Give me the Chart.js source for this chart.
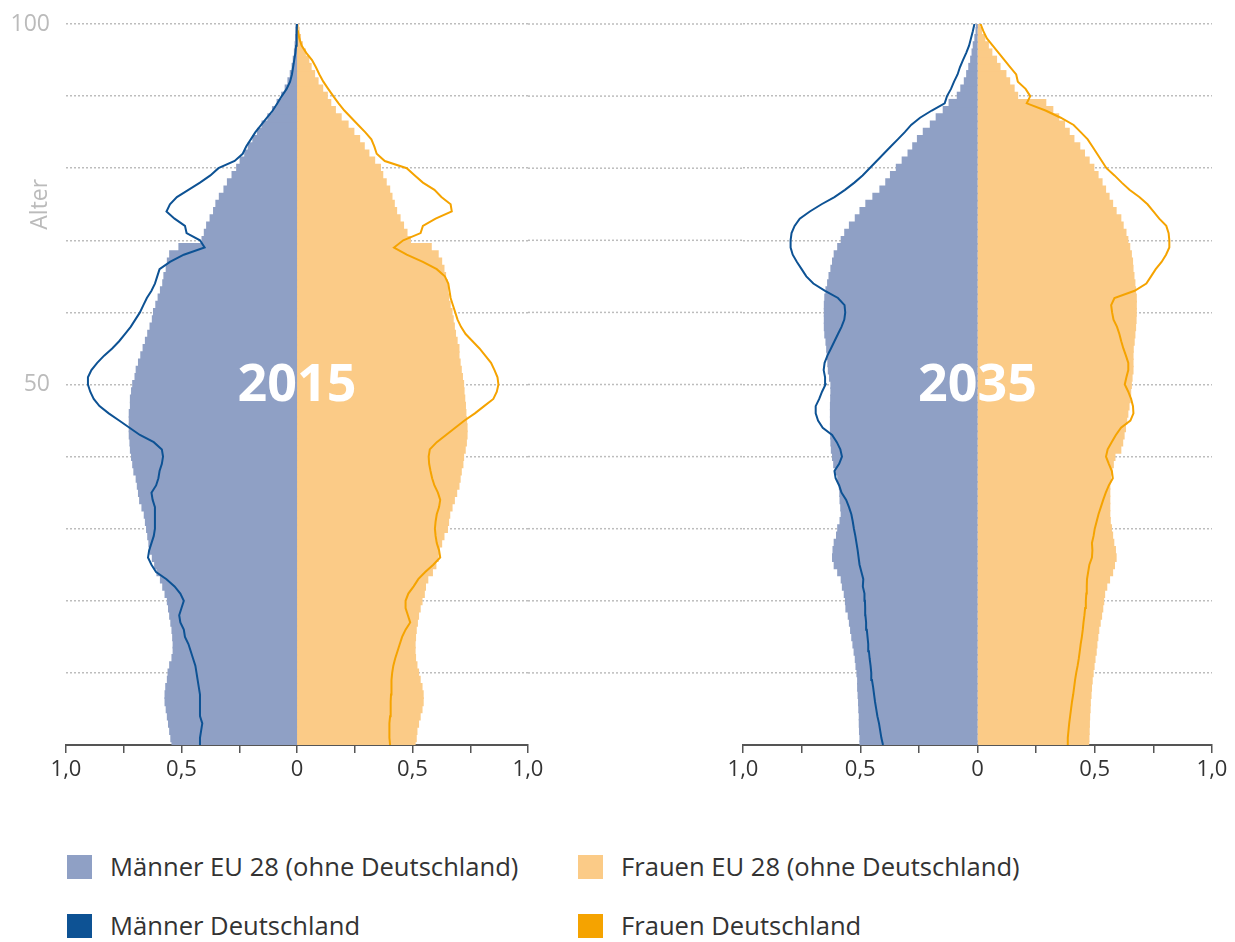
<!DOCTYPE html>
<html lang="de">
<head>
<meta charset="utf-8">
<script src="https://cdn.jsdelivr.net/npm/chart.js@4.4.1/dist/chart.umd.min.js"></script>
<style>
  body { margin: 0; background: #fff; font-family: "Open Sans", sans-serif; }
  #wrap { position: relative; width: 1235px; height: 942px; overflow: hidden; }
  #c2015 { position: absolute; left: 0; top: 0; }
  #c2035 { position: absolute; left: 640px; top: 0; }
  .leg { position: absolute; font-size: 25.6px; line-height: 30px; color: #333; white-space: nowrap; }
  .leg i { position: absolute; left: -43px; top: 3px; width: 25px; height: 24px; }
</style>
</head>
<body>
<div id="wrap">
  <canvas id="c2015" width="640" height="820"></canvas>
  <canvas id="c2035" width="595" height="820"></canvas>
  <div class="leg" style="left:110px; top:852px"><i style="background:#8fa0c5"></i>Männer EU 28 (ohne Deutschland)</div>
  <div class="leg" style="left:621px; top:852px"><i style="background:#fbcb87"></i>Frauen EU 28 (ohne Deutschland)</div>
  <div class="leg" style="left:110px; top:911px"><i style="background:#0d5294"></i>Männer Deutschland</div>
  <div class="leg" style="left:621px; top:911px"><i style="background:#f5a300"></i>Frauen Deutschland</div>
</div>
<script>
// ages 0..100, one bar per year of age
const ages = Array.from({ length: 101 }, (_, i) => i);
const ageLabels = [50, 100];

// share of population in percent, 2015
const menEU2015 = [
  0.54, 0.545, 0.55, 0.555, 0.56, 0.565, 0.57, 0.57, 0.567, 0.56,
  0.557, 0.55, 0.54, 0.535, 0.535, 0.537, 0.54, 0.545, 0.55, 0.555,
  0.56, 0.57, 0.58, 0.59, 0.605, 0.615, 0.625, 0.635, 0.64, 0.645,
  0.65, 0.655, 0.66, 0.67, 0.68, 0.685, 0.69, 0.695, 0.705, 0.71,
  0.715, 0.72, 0.722, 0.725, 0.725, 0.725, 0.725, 0.72, 0.72, 0.715,
  0.71, 0.70, 0.695, 0.685, 0.675, 0.665, 0.655, 0.645, 0.635, 0.625,
  0.62, 0.61, 0.60, 0.59, 0.58, 0.575, 0.565, 0.56, 0.55, 0.51,
  0.41, 0.40, 0.39, 0.375, 0.36, 0.35, 0.335, 0.315, 0.30, 0.28,
  0.26, 0.245, 0.225, 0.21, 0.19, 0.17, 0.15, 0.125, 0.105, 0.085,
  0.065, 0.05, 0.038, 0.028, 0.02, 0.015, 0.01, 0.007, 0.005, 0.003,
  0.002
];
const womenEU2015 = [
  0.51, 0.515, 0.518, 0.525, 0.532, 0.54, 0.545, 0.545, 0.54, 0.532,
  0.525, 0.518, 0.512, 0.51, 0.51, 0.512, 0.515, 0.52, 0.525, 0.532,
  0.54, 0.55, 0.555, 0.565, 0.585, 0.60, 0.61, 0.615, 0.625, 0.635,
  0.65, 0.655, 0.66, 0.67, 0.68, 0.69, 0.70, 0.705, 0.71, 0.717,
  0.72, 0.727, 0.732, 0.735, 0.735, 0.733, 0.73, 0.728, 0.725, 0.722,
  0.72, 0.715, 0.71, 0.705, 0.70, 0.70, 0.692, 0.685, 0.68, 0.675,
  0.67, 0.662, 0.655, 0.652, 0.65, 0.642, 0.635, 0.625, 0.61, 0.58,
  0.49, 0.475, 0.46, 0.445, 0.43, 0.42, 0.41, 0.40, 0.385, 0.37,
  0.36, 0.335, 0.31, 0.29, 0.27, 0.245, 0.22, 0.19, 0.165, 0.145,
  0.13, 0.11, 0.09, 0.075, 0.06, 0.05, 0.035, 0.022, 0.014, 0.008,
  0.005
];
const menDE2015 = [
  0.42, 0.42, 0.415, 0.41, 0.42, 0.42, 0.42, 0.42, 0.425, 0.43,
  0.435, 0.44, 0.45, 0.46, 0.47, 0.485, 0.49, 0.505, 0.51, 0.50,
  0.49, 0.505, 0.53, 0.565, 0.61, 0.63, 0.645, 0.64, 0.63, 0.62,
  0.615, 0.615, 0.615, 0.615, 0.625, 0.63, 0.61, 0.60, 0.595, 0.585,
  0.58, 0.585, 0.62, 0.68, 0.725, 0.77, 0.815, 0.855, 0.88, 0.895,
  0.905, 0.905, 0.89, 0.865, 0.835, 0.80, 0.77, 0.745, 0.72, 0.70,
  0.68, 0.665, 0.65, 0.63, 0.615, 0.605, 0.595, 0.55, 0.49, 0.40,
  0.42, 0.478, 0.485, 0.53, 0.565, 0.55, 0.52, 0.47, 0.42, 0.375,
  0.34, 0.27, 0.235, 0.22, 0.20, 0.18, 0.155, 0.13, 0.105, 0.085,
  0.066, 0.045, 0.03, 0.022, 0.017, 0.012, 0.007, 0.004, 0.002, 0.001,
  0
];
const womenDE2015 = [
  0.403, 0.40, 0.40, 0.40, 0.403, 0.405, 0.406, 0.407, 0.408, 0.41,
  0.412, 0.417, 0.425, 0.435, 0.445, 0.455, 0.47, 0.49, 0.48, 0.47,
  0.47, 0.482, 0.505, 0.525, 0.555, 0.59, 0.62, 0.615, 0.605, 0.60,
  0.597, 0.60, 0.605, 0.615, 0.62, 0.61, 0.595, 0.585, 0.578, 0.572,
  0.57, 0.575, 0.605, 0.645, 0.685, 0.725, 0.77, 0.81, 0.85, 0.865,
  0.872, 0.868, 0.855, 0.84, 0.815, 0.79, 0.76, 0.73, 0.71, 0.695,
  0.685, 0.675, 0.665, 0.66, 0.655, 0.64, 0.605, 0.545, 0.475, 0.42,
  0.46, 0.535, 0.545, 0.60, 0.67, 0.665, 0.625, 0.595, 0.545, 0.51,
  0.475, 0.38, 0.345, 0.335, 0.322, 0.295, 0.265, 0.235, 0.205, 0.18,
  0.157, 0.135, 0.114, 0.097, 0.082, 0.065, 0.04, 0.02, 0.01, 0.004,
  0
];

// share of population in percent, 2035
const menEU2035 = [
  0.50, 0.50, 0.502, 0.503, 0.503, 0.505, 0.506, 0.508, 0.51, 0.51,
  0.513, 0.517, 0.52, 0.525, 0.53, 0.535, 0.54, 0.545, 0.55, 0.56,
  0.562, 0.567, 0.575, 0.58, 0.595, 0.61, 0.617, 0.615, 0.61, 0.60,
  0.595, 0.585, 0.58, 0.582, 0.585, 0.586, 0.588, 0.595, 0.605, 0.612,
  0.617, 0.622, 0.624, 0.625, 0.626, 0.626, 0.626, 0.626, 0.625, 0.624,
  0.624, 0.63, 0.635, 0.637, 0.64, 0.642, 0.645, 0.65, 0.652, 0.652,
  0.652, 0.652, 0.65, 0.645, 0.638, 0.632, 0.624, 0.617, 0.61, 0.595,
  0.58, 0.565, 0.545, 0.52, 0.50, 0.475, 0.445, 0.415, 0.39, 0.37,
  0.345, 0.32, 0.295, 0.275, 0.255, 0.23, 0.20, 0.175, 0.145, 0.12,
  0.085, 0.07, 0.055, 0.045, 0.036, 0.028, 0.022, 0.017, 0.01, 0.005,
  0.002
];
const womenEU2035 = [
  0.473, 0.474, 0.475, 0.476, 0.477, 0.479, 0.48, 0.483, 0.485, 0.488,
  0.492, 0.496, 0.50, 0.505, 0.508, 0.512, 0.516, 0.522, 0.528, 0.533,
  0.537, 0.541, 0.55, 0.562, 0.575, 0.583, 0.59, 0.587, 0.58, 0.575,
  0.57, 0.565, 0.563, 0.563, 0.563, 0.563, 0.563, 0.567, 0.572, 0.578,
  0.585, 0.61, 0.618, 0.624, 0.63, 0.635, 0.64, 0.645, 0.65, 0.652,
  0.655, 0.658, 0.662, 0.662, 0.662, 0.663, 0.667, 0.67, 0.673, 0.675,
  0.676, 0.676, 0.676, 0.673, 0.67, 0.666, 0.662, 0.66, 0.655, 0.648,
  0.64, 0.632, 0.62, 0.61, 0.59, 0.575, 0.56, 0.545, 0.53, 0.513,
  0.495, 0.475, 0.455, 0.435, 0.41, 0.39, 0.37, 0.345, 0.32, 0.29,
  0.17, 0.155, 0.136, 0.12, 0.095, 0.08, 0.06, 0.045, 0.03, 0.016,
  0.008
];
const menDE2035 = [
  0.403, 0.41, 0.415, 0.42, 0.427, 0.432, 0.437, 0.441, 0.445, 0.45,
  0.453, 0.456, 0.46, 0.463, 0.466, 0.469, 0.472, 0.475, 0.478, 0.479,
  0.48, 0.482, 0.489, 0.487, 0.495, 0.503, 0.507, 0.511, 0.516, 0.521,
  0.527, 0.532, 0.538, 0.548, 0.56, 0.58, 0.59, 0.605, 0.61, 0.59,
  0.578, 0.585, 0.60, 0.62, 0.66, 0.68, 0.69, 0.69, 0.675, 0.663,
  0.648, 0.65, 0.656, 0.652, 0.64, 0.625, 0.61, 0.595, 0.58, 0.568,
  0.564, 0.567, 0.595, 0.65, 0.70, 0.73, 0.75, 0.77, 0.788, 0.797,
  0.797, 0.793, 0.78, 0.758, 0.715, 0.665, 0.61, 0.565, 0.525, 0.49,
  0.46, 0.43, 0.40, 0.37, 0.34, 0.31, 0.283, 0.245, 0.195, 0.14,
  0.13, 0.113, 0.10, 0.085, 0.075, 0.062, 0.048, 0.036, 0.028, 0.02,
  0.013
];
const womenDE2035 = [
  0.382, 0.385, 0.388, 0.391, 0.395, 0.399, 0.403, 0.408, 0.412, 0.416,
  0.421, 0.427, 0.432, 0.436, 0.44, 0.445, 0.449, 0.452, 0.456, 0.459,
  0.462, 0.464, 0.466, 0.467, 0.472, 0.477, 0.488, 0.49, 0.488, 0.495,
  0.50, 0.508, 0.516, 0.526, 0.536, 0.547, 0.56, 0.577, 0.573, 0.56,
  0.548, 0.555, 0.572, 0.59, 0.612, 0.652, 0.665, 0.663, 0.655, 0.643,
  0.628, 0.635, 0.643, 0.643, 0.633, 0.622, 0.613, 0.605, 0.595, 0.58,
  0.574, 0.57, 0.584, 0.67, 0.72, 0.74, 0.76, 0.785, 0.804, 0.818,
  0.818, 0.815, 0.805, 0.775, 0.75, 0.725, 0.69, 0.648, 0.615, 0.584,
  0.55, 0.53, 0.51, 0.49, 0.47, 0.44, 0.41, 0.355, 0.29, 0.21,
  0.225, 0.205, 0.172, 0.165, 0.14, 0.115, 0.09, 0.065, 0.04, 0.025,
  0.013
];

const colors = {
  menEU: '#8fa0c5',
  womenEU: '#fbcb87',
  menDE: '#0d5294',
  womenDE: '#f5a300',
  grid: '#bdbdbd',
  axis: '#555'
};

// axis ticks: 1,0  0,5  0  0,5  1,0 (men drawn to the left)
function fmtShare(v) {
  const a = Math.abs(v);
  if (Math.abs(a * 2 - Math.round(a * 2)) > 1e-9) return '';
  return a === 0 ? '0' : a.toFixed(1).replace('.', ',');
}

// dotted age lines continue into the space between the two pyramids
const gapGrid = {
  id: 'gapGrid',
  beforeDatasetsDraw(chart, args, opts) {
    const { ctx, chartArea, scales: { y } } = chart;
    const x0 = opts.side === 'right' ? chartArea.right : 0;
    const x1 = opts.side === 'right' ? chart.width : chartArea.left;
    ctx.save();
    ctx.strokeStyle = colors.grid;
    ctx.lineWidth = 1.5;
    ctx.setLineDash([2, 2]);
    y.ticks.forEach(t => {
      if (t.value === 0) return;
      const py = y.getPixelForValue(t.value);
      ctx.beginPath();
      ctx.moveTo(x0, py);
      ctx.lineTo(x1, py);
      ctx.stroke();
    });
    ctx.restore();
  }
};

const yearLabel = {
  id: 'yearLabel',
  afterDatasetsDraw(chart, args, opts) {
    const { ctx, chartArea, scales: { x, y } } = chart;
    ctx.save();
    ctx.fillStyle = '#fff';
    ctx.font = 'bold 52px "Open Sans"';
    ctx.textAlign = 'center';
    ctx.textBaseline = 'alphabetic';
    ctx.fillText(opts.text, x.getPixelForValue(0), y.getPixelForValue(50) + 16);
    if (opts.title) {
      ctx.translate(chartArea.left - 26, y.getPixelForValue(75));
      ctx.rotate(-Math.PI / 2);
      ctx.fillStyle = '#bbb';
      ctx.font = '23px "Open Sans"';
      ctx.textBaseline = 'middle';
      ctx.fillText(opts.title, 0, 0);
    }
    ctx.restore();
  }
};

function pyramid(id, year, menEU, womenEU, menDE, womenDE, left) {
  const pts = (vals, sign) => vals.map((v, i) => ({ x: sign * v, y: ages[i] }));
  return new Chart(document.getElementById(id), {
    type: 'bar',
    data: {
      datasets: [
        { type: 'line', label: 'Männer Deutschland', data: pts(menDE, -1), borderColor: colors.menDE, borderWidth: 2, pointRadius: 0, order: 0 },
        { type: 'line', label: 'Frauen Deutschland', data: pts(womenDE, 1), borderColor: colors.womenDE, borderWidth: 2, pointRadius: 0, order: 0 },
        { label: 'Männer EU 28 (ohne Deutschland)', data: pts(menEU, -1), backgroundColor: colors.menEU, order: 1 },
        { label: 'Frauen EU 28 (ohne Deutschland)', data: pts(womenEU, 1), backgroundColor: colors.womenEU, order: 1 }
      ]
    },
    options: {
      indexAxis: 'y',
      responsive: false,
      animation: false,
      layout: { padding: left ? { top: 24, right: 112, left: 0, bottom: 0 } : { top: 24, right: 23, left: 103, bottom: 0 } },
      datasets: { bar: { grouped: false, barPercentage: 1, categoryPercentage: 1, borderWidth: 0, inflateAmount: 0.8 } },
      plugins: {
        legend: { display: false },
        tooltip: { enabled: false },
        gapGrid: { side: left ? 'right' : 'left' },
        yearLabel: { text: year, title: left ? 'Alter' : '' }
      },
      scales: {
        x: {
          type: 'linear', min: -1, max: 1,
          ticks: { stepSize: 0.25, autoSkip: false, maxRotation: 0, padding: 4, color: '#333', font: { family: 'Open Sans', size: 22 }, callback: fmtShare },
          grid: { drawOnChartArea: false, drawTicks: true, tickLength: 8, color: colors.axis, lineWidth: 1.5 },
          border: { display: true, color: colors.axis, width: 2 },
          afterFit: s => { s.height = 75; }
        },
        y: {
          type: 'linear', min: 0, max: 100, offset: false,
          ticks: { stepSize: 10, display: left, padding: 16, color: '#bbb', font: { family: 'Open Sans', size: 23 },
            callback: v => ageLabels.includes(v) ? String(v) : '' },
          grid: { offset: false, drawTicks: false, color: colors.grid, lineWidth: 1.5 },
          border: { display: false, dash: [2, 2] },
          afterFit: s => { s.width = left ? 66 : 0; s.paddingTop = 0; s.paddingBottom = 0; }
        }
      }
    },
    plugins: [gapGrid, yearLabel]
  });
}

pyramid('c2015', '2015', menEU2015, womenEU2015, menDE2015, womenDE2015, true);
pyramid('c2035', '2035', menEU2035, womenEU2035, menDE2035, womenDE2035, false);
</script>
</body>
</html>
